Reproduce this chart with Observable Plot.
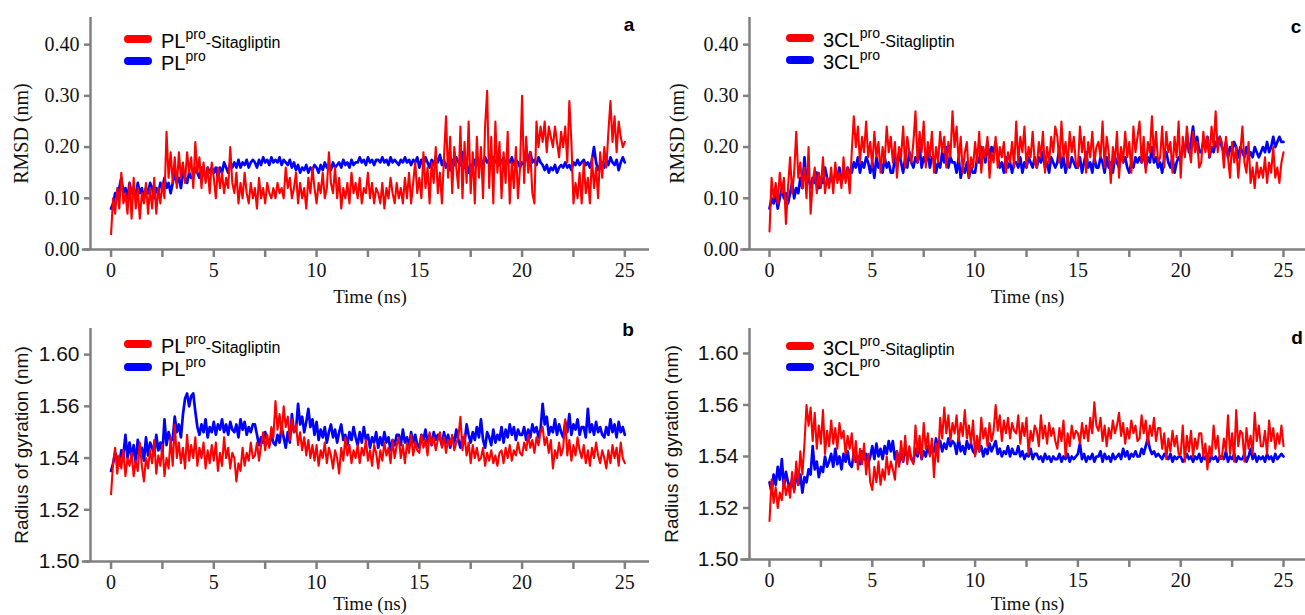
<!DOCTYPE html>
<html><head><meta charset="utf-8">
<script src="https://cdn.jsdelivr.net/npm/d3@7"></script>
<script src="https://cdn.jsdelivr.net/npm/@observablehq/plot@0.6"></script>
<style>
body{margin:0;background:#fff;}
#wrap{position:relative;width:1305px;height:615px;overflow:hidden;background:#fff;}
.panel{position:absolute;}
.sw{position:absolute;width:28px;height:8px;border-radius:4px;}
.lt{position:absolute;font-family:Arial,"Liberation Sans",sans-serif;color:#000;white-space:nowrap;line-height:24px;height:24px;}
.lt .m{font-size:20px;}
.lt sup{font-size:14px;position:relative;top:-2px;vertical-align:top;line-height:14px;}
.lt .s{font-size:16px;}
.letter{position:absolute;font-family:Arial,"Liberation Sans",sans-serif;font-weight:bold;font-size:19px;transform:translate(-50%,-50%);}
</style></head>
<body><div id="wrap"></div>
<script>
// sampling step of the trajectories (ns)
const dt = 0.1;
const xTicks = [0, 2.5, 5, 7.5, 10, 12.5, 15, 17.5, 20, 22.5, 25];
const rmsdTicks = [0, 0.1, 0.2, 0.3, 0.4];
// tick positions of the Rg axis and the labels printed at them in the figure
const rgTicks = [1.50, 1.52, 1.54, 1.56, 1.58];
const rgTickLabels = ["1.50", "1.52", "1.54", "1.56", "1.60"];

// (a) RMSD PLpro
const aRed = [
0.03,0.10,0.07,0.12,0.08,0.15,0.09,0.11,0.07,0.13,
0.06,0.14,0.08,0.12,0.06,0.11,0.09,0.13,0.07,0.12,
0.08,0.14,0.07,0.12,0.09,0.13,0.10,0.23,0.14,0.19,
0.13,0.18,0.12,0.19,0.14,0.17,0.13,0.19,0.15,0.18,
0.12,0.21,0.15,0.18,0.12,0.17,0.13,0.16,0.11,0.17,
0.14,0.10,0.16,0.12,0.15,0.11,0.14,0.12,0.20,0.13,
0.11,0.15,0.09,0.13,0.10,0.15,0.11,0.09,0.13,0.10,
0.12,0.08,0.14,0.10,0.12,0.09,0.13,0.11,0.10,0.12,
0.10,0.13,0.11,0.12,0.10,0.16,0.12,0.14,0.10,0.12,
0.15,0.09,0.13,0.10,0.12,0.08,0.14,0.11,0.16,0.12,
0.09,0.13,0.11,0.15,0.10,0.12,0.19,0.13,0.11,0.16,
0.10,0.14,0.08,0.12,0.10,0.13,0.09,0.15,0.11,0.13,
0.10,0.14,0.09,0.12,0.11,0.15,0.10,0.13,0.09,0.12,
0.11,0.09,0.13,0.08,0.12,0.10,0.14,0.11,0.09,0.13,
0.10,0.12,0.09,0.14,0.10,0.15,0.09,0.13,0.17,0.11,
0.14,0.10,0.19,0.12,0.16,0.09,0.17,0.13,0.20,0.11,
0.15,0.09,0.18,0.26,0.14,0.22,0.11,0.20,0.16,0.12,
0.24,0.10,0.21,0.13,0.25,0.11,0.19,0.09,0.22,0.14,
0.20,0.10,0.24,0.31,0.12,0.22,0.09,0.25,0.15,0.21,
0.10,0.19,0.13,0.23,0.09,0.17,0.12,0.20,0.10,0.16,
0.30,0.13,0.22,0.15,0.19,0.11,0.09,0.25,0.20,0.24,
0.21,0.25,0.19,0.24,0.22,0.20,0.24,0.21,0.18,0.23,
0.20,0.24,0.17,0.29,0.21,0.09,0.13,0.10,0.15,0.09,
0.17,0.11,0.14,0.09,0.18,0.12,0.16,0.10,0.19,0.14,
0.20,0.16,0.23,0.29,0.21,0.26,0.19,0.25,0.22,0.20,
0.21];
const aBlue = [
0.08,0.09,0.11,0.10,0.12,0.14,0.11,0.12,0.10,0.13,
0.11,0.12,0.10,0.13,0.11,0.12,0.10,0.12,0.11,0.13,
0.12,0.10,0.12,0.11,0.13,0.12,0.14,0.12,0.13,0.11,
0.13,0.15,0.13,0.14,0.12,0.15,0.14,0.13,0.15,0.14,
0.14,0.16,0.15,0.14,0.16,0.15,0.14,0.16,0.15,0.16,
0.15,0.16,0.14,0.16,0.15,0.17,0.16,0.15,0.17,0.16,
0.17,0.16,0.175,0.16,0.17,0.165,0.175,0.16,0.17,0.175,
0.17,0.16,0.175,0.165,0.18,0.17,0.175,0.165,0.18,0.17,
0.175,0.17,0.18,0.165,0.175,0.17,0.165,0.175,0.16,0.17,
0.155,0.165,0.15,0.16,0.155,0.165,0.15,0.16,0.155,0.165,
0.16,0.15,0.165,0.155,0.17,0.16,0.165,0.155,0.17,0.16,
0.165,0.17,0.16,0.175,0.165,0.17,0.16,0.175,0.165,0.17,
0.17,0.18,0.17,0.175,0.165,0.18,0.17,0.175,0.165,0.175,
0.175,0.17,0.18,0.17,0.175,0.165,0.18,0.17,0.175,0.17,
0.165,0.175,0.17,0.18,0.17,0.175,0.165,0.175,0.17,0.18,
0.16,0.175,0.165,0.18,0.17,0.16,0.175,0.165,0.18,0.17,
0.185,0.165,0.175,0.16,0.17,0.155,0.175,0.165,0.18,0.17,
0.165,0.19,0.16,0.17,0.15,0.165,0.16,0.175,0.165,0.17,
0.175,0.165,0.18,0.17,0.175,0.165,0.18,0.17,0.175,0.165,
0.17,0.18,0.165,0.175,0.17,0.18,0.165,0.175,0.17,0.16,
0.17,0.165,0.18,0.175,0.19,0.17,0.175,0.165,0.18,0.17,
0.165,0.155,0.165,0.15,0.16,0.155,0.165,0.15,0.16,0.165,
0.16,0.17,0.16,0.165,0.155,0.17,0.165,0.175,0.165,0.17,
0.175,0.165,0.17,0.16,0.175,0.20,0.17,0.155,0.165,0.17,
0.16,0.175,0.165,0.18,0.17,0.165,0.175,0.155,0.17,0.18,
0.17];

// (c) RMSD 3CLpro
const cRed = [
0.035,0.14,0.10,0.13,0.09,0.15,0.11,0.14,0.05,0.12,
0.18,0.11,0.15,0.23,0.14,0.17,0.12,0.16,0.10,0.20,
0.07,0.13,0.16,0.11,0.15,0.12,0.18,0.11,0.14,0.12,
0.16,0.11,0.17,0.13,0.15,0.12,0.18,0.13,0.16,0.11,
0.19,0.26,0.20,0.24,0.17,0.22,0.19,0.25,0.18,0.21,
0.16,0.23,0.18,0.21,0.15,0.20,0.17,0.24,0.19,0.22,
0.17,0.21,0.14,0.20,0.18,0.24,0.16,0.22,0.19,0.17,
0.21,0.27,0.17,0.23,0.19,0.25,0.16,0.21,0.18,0.23,
0.15,0.20,0.17,0.23,0.19,0.22,0.16,0.21,0.18,0.27,
0.20,0.24,0.17,0.22,0.15,0.19,0.21,0.14,0.18,0.16,
0.21,0.17,0.23,0.15,0.20,0.18,0.22,0.14,0.19,0.17,
0.22,0.16,0.20,0.18,0.21,0.15,0.19,0.17,0.21,0.16,
0.25,0.17,0.22,0.19,0.24,0.16,0.20,0.18,0.23,0.17,
0.16,0.21,0.18,0.23,0.15,0.20,0.17,0.22,0.19,0.24,
0.22,0.17,0.25,0.18,0.21,0.16,0.23,0.19,0.22,0.17,
0.16,0.24,0.19,0.22,0.15,0.21,0.18,0.23,0.17,0.20,
0.21,0.18,0.25,0.16,0.22,0.19,0.13,0.20,0.17,0.23,
0.14,0.20,0.17,0.23,0.18,0.21,0.15,0.24,0.19,0.22,
0.25,0.17,0.22,0.15,0.21,0.19,0.26,0.18,0.23,0.17,
0.18,0.24,0.16,0.23,0.19,0.21,0.15,0.22,0.18,0.25,
0.14,0.22,0.18,0.24,0.20,0.17,0.23,0.19,0.21,0.16,
0.17,0.23,0.19,0.22,0.18,0.24,0.20,0.27,0.19,0.22,
0.21,0.16,0.22,0.18,0.14,0.21,0.17,0.20,0.14,0.19,
0.24,0.17,0.15,0.21,0.13,0.16,0.12,0.17,0.14,0.16,
0.14,0.18,0.13,0.17,0.15,0.20,0.14,0.16,0.13,0.17,
0.19];
const cBlue = [
0.08,0.10,0.09,0.11,0.08,0.10,0.12,0.10,0.11,0.09,
0.11,0.13,0.10,0.12,0.11,0.14,0.12,0.18,0.13,0.14,
0.12,0.14,0.13,0.15,0.12,0.14,0.13,0.16,0.14,0.13,
0.14,0.13,0.15,0.14,0.16,0.13,0.15,0.14,0.16,0.15,
0.15,0.17,0.16,0.18,0.15,0.17,0.16,0.18,0.17,0.15,
0.17,0.14,0.18,0.16,0.17,0.15,0.18,0.16,0.17,0.15,
0.15,0.18,0.16,0.19,0.17,0.15,0.18,0.16,0.19,0.17,
0.16,0.18,0.17,0.20,0.16,0.18,0.17,0.19,0.16,0.18,
0.18,0.15,0.17,0.16,0.19,0.17,0.20,0.16,0.18,0.17,
0.17,0.15,0.18,0.14,0.16,0.15,0.17,0.14,0.16,0.15,
0.15,0.18,0.17,0.20,0.19,0.17,0.21,0.18,0.20,0.19,
0.21,0.18,0.16,0.17,0.15,0.18,0.16,0.17,0.15,0.17,
0.17,0.16,0.18,0.15,0.17,0.16,0.18,0.17,0.16,0.18,
0.16,0.18,0.17,0.19,0.16,0.17,0.15,0.18,0.17,0.16,
0.17,0.20,0.16,0.18,0.15,0.17,0.16,0.18,0.17,0.16,
0.16,0.18,0.15,0.17,0.19,0.16,0.17,0.15,0.18,0.16,
0.16,0.18,0.17,0.15,0.18,0.16,0.17,0.15,0.18,0.17,
0.16,0.19,0.17,0.18,0.16,0.15,0.17,0.16,0.18,0.17,
0.18,0.17,0.19,0.16,0.18,0.17,0.20,0.17,0.18,0.16,
0.17,0.15,0.18,0.19,0.17,0.16,0.18,0.15,0.17,0.18,
0.18,0.20,0.19,0.22,0.19,0.21,0.24,0.20,0.22,0.19,
0.19,0.21,0.20,0.22,0.18,0.20,0.19,0.21,0.20,0.22,
0.20,0.19,0.21,0.18,0.20,0.19,0.21,0.20,0.18,0.20,
0.19,0.18,0.20,0.18,0.19,0.18,0.20,0.19,0.18,0.19,
0.20,0.19,0.21,0.19,0.20,0.22,0.20,0.21,0.22,0.21,
0.21];

// (b) Radius of gyration PLpro
const bRed = [
1.526,1.538,1.544,1.534,1.541,1.536,1.543,1.533,1.540,1.537,
1.542,1.533,1.539,1.535,1.546,1.537,1.531,1.540,1.536,1.543,
1.538,1.547,1.534,1.541,1.537,1.545,1.533,1.540,1.536,1.548,
1.537,1.553,1.540,1.546,1.538,1.544,1.536,1.549,1.539,1.545,
1.540,1.548,1.537,1.544,1.540,1.546,1.536,1.543,1.538,1.545,
1.539,1.546,1.535,1.542,1.537,1.548,1.540,1.544,1.536,1.542,
1.540,1.531,1.538,1.535,1.544,1.537,1.542,1.539,1.546,1.540,
1.541,1.546,1.539,1.545,1.550,1.543,1.549,1.544,1.552,1.548,
1.562,1.551,1.557,1.549,1.560,1.552,1.556,1.547,1.555,1.550,
1.553,1.545,1.550,1.543,1.548,1.541,1.547,1.540,1.545,1.539,
1.545,1.537,1.543,1.540,1.546,1.538,1.544,1.541,1.536,1.543,
1.540,1.534,1.544,1.539,1.548,1.541,1.545,1.538,1.543,1.540,
1.545,1.538,1.544,1.541,1.547,1.539,1.543,1.537,1.545,1.542,
1.536,1.543,1.539,1.546,1.541,1.544,1.538,1.547,1.540,1.545,
1.548,1.540,1.545,1.538,1.546,1.542,1.549,1.541,1.546,1.543,
1.542,1.549,1.544,1.547,1.541,1.550,1.545,1.548,1.543,1.547,
1.550,1.544,1.548,1.542,1.547,1.545,1.549,1.543,1.546,1.548,
1.556,1.543,1.549,1.541,1.546,1.538,1.545,1.540,1.544,1.539,
1.540,1.544,1.537,1.542,1.539,1.543,1.538,1.541,1.537,1.542,
1.543,1.538,1.544,1.540,1.545,1.539,1.543,1.541,1.546,1.542,
1.541,1.546,1.543,1.549,1.544,1.547,1.542,1.548,1.545,1.550,
1.552,1.545,1.548,1.542,1.547,1.536,1.543,1.540,1.546,1.541,
1.544,1.555,1.541,1.547,1.539,1.545,1.541,1.548,1.543,1.540,
1.545,1.538,1.543,1.537,1.544,1.540,1.546,1.541,1.538,1.543,
1.540,1.536,1.543,1.538,1.545,1.540,1.544,1.537,1.546,1.540,
1.538];
const bBlue = [
1.535,1.538,1.542,1.540,1.537,1.543,1.541,1.549,1.540,1.546,
1.540,1.545,1.538,1.547,1.542,1.544,1.539,1.548,1.541,1.546,
1.544,1.541,1.549,1.543,1.546,1.542,1.555,1.545,1.550,1.547,
1.547,1.556,1.550,1.553,1.548,1.557,1.563,1.565,1.560,1.564,
1.565,1.558,1.552,1.549,1.553,1.550,1.555,1.548,1.552,1.550,
1.554,1.549,1.553,1.551,1.555,1.550,1.553,1.549,1.554,1.551,
1.550,1.553,1.548,1.555,1.551,1.554,1.549,1.552,1.550,1.553,
1.553,1.549,1.545,1.548,1.546,1.550,1.547,1.545,1.549,1.546,
1.545,1.549,1.546,1.552,1.548,1.544,1.550,1.546,1.557,1.550,
1.551,1.561,1.553,1.556,1.550,1.554,1.559,1.552,1.555,1.549,
1.554,1.547,1.551,1.548,1.552,1.546,1.550,1.553,1.548,1.551,
1.546,1.550,1.553,1.547,1.549,1.545,1.550,1.547,1.552,1.548,
1.545,1.550,1.546,1.552,1.547,1.549,1.544,1.548,1.546,1.550,
1.544,1.548,1.545,1.550,1.546,1.548,1.543,1.547,1.545,1.549,
1.549,1.545,1.551,1.546,1.548,1.544,1.550,1.546,1.549,1.545,
1.544,1.549,1.547,1.551,1.546,1.549,1.545,1.550,1.547,1.549,
1.548,1.545,1.550,1.546,1.549,1.544,1.548,1.546,1.551,1.547,
1.544,1.548,1.546,1.553,1.549,1.546,1.550,1.547,1.552,1.548,
1.555,1.547,1.544,1.550,1.548,1.545,1.551,1.546,1.549,1.547,
1.552,1.546,1.551,1.548,1.553,1.549,1.552,1.547,1.551,1.549,
1.549,1.552,1.547,1.551,1.548,1.553,1.550,1.552,1.548,1.551,
1.561,1.553,1.556,1.549,1.552,1.550,1.555,1.549,1.553,1.550,
1.548,1.554,1.550,1.557,1.549,1.553,1.551,1.555,1.549,1.552,
1.552,1.548,1.559,1.550,1.553,1.549,1.554,1.550,1.552,1.549,
1.548,1.552,1.549,1.555,1.550,1.553,1.548,1.554,1.550,1.552,
1.549];

// (d) Radius of gyration 3CLpro
const dRed = [
1.515,1.531,1.522,1.528,1.520,1.526,1.523,1.531,1.525,1.529,
1.524,1.534,1.526,1.538,1.529,1.542,1.533,1.545,1.560,1.552,
1.559,1.546,1.557,1.543,1.552,1.545,1.558,1.541,1.550,1.544,
1.554,1.545,1.551,1.543,1.553,1.547,1.550,1.541,1.548,1.543,
1.549,1.538,1.546,1.535,1.543,1.537,1.545,1.533,1.541,1.530,
1.527,1.536,1.530,1.538,1.529,1.535,1.531,1.540,1.533,1.538,
1.535,1.531,1.542,1.536,1.546,1.538,1.548,1.537,1.544,1.539,
1.537,1.552,1.541,1.548,1.539,1.553,1.543,1.549,1.540,1.547,
1.532,1.545,1.538,1.555,1.547,1.559,1.549,1.556,1.546,1.553,
1.549,1.556,1.546,1.553,1.548,1.558,1.547,1.552,1.545,1.554,
1.540,1.548,1.542,1.555,1.547,1.551,1.544,1.553,1.546,1.550,
1.560,1.550,1.556,1.546,1.554,1.549,1.555,1.547,1.553,1.550,
1.549,1.556,1.545,1.553,1.548,1.555,1.541,1.550,1.546,1.552,
1.550,1.544,1.556,1.547,1.552,1.545,1.553,1.548,1.551,1.546,
1.543,1.551,1.546,1.554,1.540,1.549,1.544,1.552,1.547,1.550,
1.549,1.545,1.553,1.547,1.552,1.546,1.555,1.549,1.561,1.552,
1.550,1.555,1.546,1.552,1.544,1.551,1.547,1.554,1.549,1.552,
1.557,1.548,1.553,1.545,1.551,1.547,1.554,1.549,1.552,1.546,
1.547,1.556,1.549,1.554,1.545,1.552,1.548,1.555,1.546,1.551,
1.551,1.543,1.549,1.539,1.547,1.542,1.550,1.544,1.548,1.541,
1.541,1.552,1.538,1.548,1.542,1.550,1.540,1.547,1.543,1.549,
1.549,1.540,1.545,1.535,1.544,1.540,1.552,1.543,1.548,1.539,
1.539,1.547,1.542,1.556,1.541,1.549,1.538,1.558,1.544,1.550,
1.549,1.538,1.551,1.543,1.548,1.541,1.557,1.546,1.552,1.544,
1.544,1.550,1.541,1.554,1.546,1.551,1.543,1.549,1.545,1.552,
1.544];
const dBlue = [
1.530,1.526,1.533,1.529,1.536,1.531,1.539,1.528,1.534,1.530,
1.528,1.531,1.527,1.534,1.529,1.533,1.526,1.532,1.530,1.535,
1.533,1.544,1.535,1.538,1.532,1.536,1.534,1.540,1.536,1.538,
1.541,1.536,1.543,1.537,1.540,1.535,1.541,1.538,1.542,1.537,
1.536,1.541,1.538,1.540,1.537,1.542,1.539,1.541,1.537,1.540,
1.544,1.539,1.545,1.540,1.543,1.539,1.544,1.541,1.546,1.542,
1.546,1.539,1.542,1.537,1.541,1.538,1.543,1.540,1.542,1.539,
1.538,1.543,1.540,1.545,1.539,1.542,1.540,1.544,1.541,1.543,
1.542,1.547,1.543,1.546,1.542,1.545,1.543,1.547,1.544,1.546,
1.545,1.541,1.547,1.542,1.544,1.541,1.546,1.543,1.545,1.542,
1.541,1.546,1.542,1.544,1.540,1.543,1.541,1.545,1.542,1.544,
1.546,1.541,1.543,1.540,1.542,1.541,1.544,1.540,1.543,1.541,
1.541,1.544,1.540,1.542,1.539,1.541,1.540,1.543,1.539,1.541,
1.541,1.539,1.540,1.538,1.541,1.539,1.540,1.538,1.540,1.539,
1.539,1.541,1.538,1.540,1.539,1.541,1.538,1.540,1.539,1.540,
1.541,1.545,1.539,1.541,1.538,1.540,1.539,1.541,1.538,1.540,
1.540,1.542,1.538,1.541,1.539,1.540,1.538,1.541,1.539,1.540,
1.541,1.539,1.543,1.540,1.542,1.539,1.541,1.540,1.542,1.540,
1.540,1.543,1.541,1.544,1.547,1.543,1.541,1.542,1.540,1.541,
1.540,1.539,1.541,1.540,1.539,1.541,1.538,1.540,1.539,1.540,
1.540,1.538,1.539,1.541,1.539,1.540,1.538,1.540,1.539,1.541,
1.538,1.540,1.539,1.541,1.538,1.540,1.539,1.540,1.538,1.540,
1.540,1.539,1.542,1.538,1.540,1.539,1.541,1.538,1.540,1.539,
1.539,1.541,1.538,1.540,1.543,1.539,1.541,1.538,1.540,1.539,
1.540,1.538,1.541,1.539,1.540,1.538,1.541,1.539,1.540,1.541,
1.540];

const wrap = document.getElementById("wrap");
const rows = (arr) => arr.map((v, i) => ({t: i * dt, v}));
const AX = "#808080";
const SERIF = "'Liberation Serif','Times New Roman',serif";
const SANS = "'Liberation Sans',Arial,sans-serif";

function panel(o) {
  const yFamily = o.yFont === "serif" ? SERIF : SANS;
  const chart = Plot.plot({
    width: o.width, height: o.height,
    marginLeft: o.mL, marginRight: o.mR, marginTop: o.mT, marginBottom: o.mB,
    x: {domain: o.xDomain},
    y: {domain: o.yDomain},
    style: {background: "transparent", overflow: "visible"},
    marks: [
      Plot.lineY(rows(o.blue), {x: "t", y: "v", stroke: "#0000ff", strokeWidth: 2.7}),
      Plot.lineY(rows(o.red), {x: "t", y: "v", stroke: "#ff0000", strokeWidth: 2.1}),
      Plot.ruleX([o.xDomain[0]], {stroke: AX, strokeWidth: 2.5}),
      Plot.ruleY([o.yDomain[0]], {stroke: AX, strokeWidth: 2.5, x1: o.xLineStart, x2: o.xDomain[1]}),
      Plot.axisX(xTicks, {tickSize: 8, tickPadding: 5, tickFormat: d => d % 5 === 0 ? String(d) : "",
        stroke: AX, strokeWidth: 2.5, fill: "#111", fontSize: 20, fontFamily: SERIF, label: null}),
      Plot.axisY(o.yTicks, {tickSize: 6, tickPadding: 5, tickFormat: o.yFormat,
        stroke: AX, strokeWidth: 2.5, fill: "#111", fontSize: o.yFontSize,
        fontFamily: yFamily, label: null}),
      Plot.text([o.yLabel], {text: d => d, frameAnchor: "left", rotate: -90, dx: o.yLabelDx,
        textAnchor: "middle", lineAnchor: "middle",
        fontSize: o.yLabelSize, fontFamily: yFamily, fill: "#111"}),
      Plot.text(["Time (ns)"], {text: d => d, frameAnchor: "bottom", dy: o.xLabelDy,
        textAnchor: "middle", lineAnchor: "middle",
        fontSize: 19, fontFamily: SERIF, fill: "#111"})
    ]
  });
  const div = document.createElement("div");
  div.className = "panel";
  div.style.left = o.left + "px";
  div.style.top = o.top + "px";
  div.appendChild(chart);
  wrap.appendChild(div);

  // legend
  const entries = [
    {color: "#ff0000", y: o.legY[0], html: `<span class="m">${o.name}</span><sup>pro</sup><span class="s">-Sitagliptin</span>`},
    {color: "#0000ff", y: o.legY[1], html: `<span class="m">${o.name}</span><sup>pro</sup>`}
  ];
  for (const e of entries) {
    const sw = document.createElement("div");
    sw.className = "sw";
    sw.style.background = e.color;
    sw.style.left = o.legX + "px";
    sw.style.top = (e.y - 4) + "px";
    wrap.appendChild(sw);
    const t = document.createElement("div");
    t.className = "lt";
    t.style.left = (o.legX + 37) + "px";
    t.style.top = (e.y - 10) + "px";
    t.innerHTML = e.html;
    wrap.appendChild(t);
  }
  const L = document.createElement("div");
  L.className = "letter";
  L.textContent = o.letter;
  L.style.left = o.letterPos[0] + "px";
  L.style.top = o.letterPos[1] + "px";
  wrap.appendChild(L);
}

const rmsdFormat = d3.format(".2f");
const rgFormat = d => rgTickLabels[Math.round((d - rgTicks[0]) / 0.02)];

panel({left: 0, top: 0, width: 652, height: 305, mL: 90, mR: 3, mT: 17, mB: 56,
  xDomain: [-1.0, 26.2], xLineStart: -1.4, yDomain: [0, 0.453], yTicks: rmsdTicks, yFormat: rmsdFormat,
  yFont: "serif", yFontSize: 20, yLabel: "RMSD (nm)", yLabelDx: -69, yLabelSize: 20, xLabelDy: 47,
  red: aRed, blue: aBlue, name: "PL", legX: 124, legY: [39, 61], letter: "a", letterPos: [629, 25]});

panel({left: 650, top: 0, width: 655, height: 305, mL: 99, mR: 0, mT: 17, mB: 56,
  xDomain: [-0.973, 26.07], xLineStart: -1.4, yDomain: [0, 0.453], yTicks: rmsdTicks, yFormat: rmsdFormat,
  yFont: "serif", yFontSize: 20, yLabel: "RMSD (nm)", yLabelDx: -72, yLabelSize: 20, xLabelDy: 47,
  red: cRed, blue: cBlue, name: "3CL", legX: 786, legY: [38, 60], letter: "c", letterPos: [1296, 27]});

panel({left: 0, top: 305, width: 652, height: 310, mL: 90, mR: 3, mT: 23, mB: 54,
  xDomain: [-1.0, 26.2], xLineStart: -1.4, yDomain: [1.5, 1.5901], yTicks: rgTicks, yFormat: rgFormat,
  yFont: "sans", yFontSize: 21, yLabel: "Radius of gyration (nm)", yLabelDx: -69, yLabelSize: 19, xLabelDy: 42,
  red: bRed, blue: bBlue, name: "PL", legX: 124, legY: [344, 367], letter: "b", letterPos: [628, 330]});

panel({left: 650, top: 305, width: 655, height: 310, mL: 99, mR: 0, mT: 23, mB: 56,
  xDomain: [-0.973, 26.07], xLineStart: -1.4, yDomain: [1.5, 1.5897], yTicks: rgTicks, yFormat: rgFormat,
  yFont: "sans", yFontSize: 21, yLabel: "Radius of gyration (nm)", yLabelDx: -78, yLabelSize: 19, xLabelDy: 44,
  red: dRed, blue: dBlue, name: "3CL", legX: 786, legY: [346, 367], letter: "d", letterPos: [1297, 338]});
</script>
</body></html>
